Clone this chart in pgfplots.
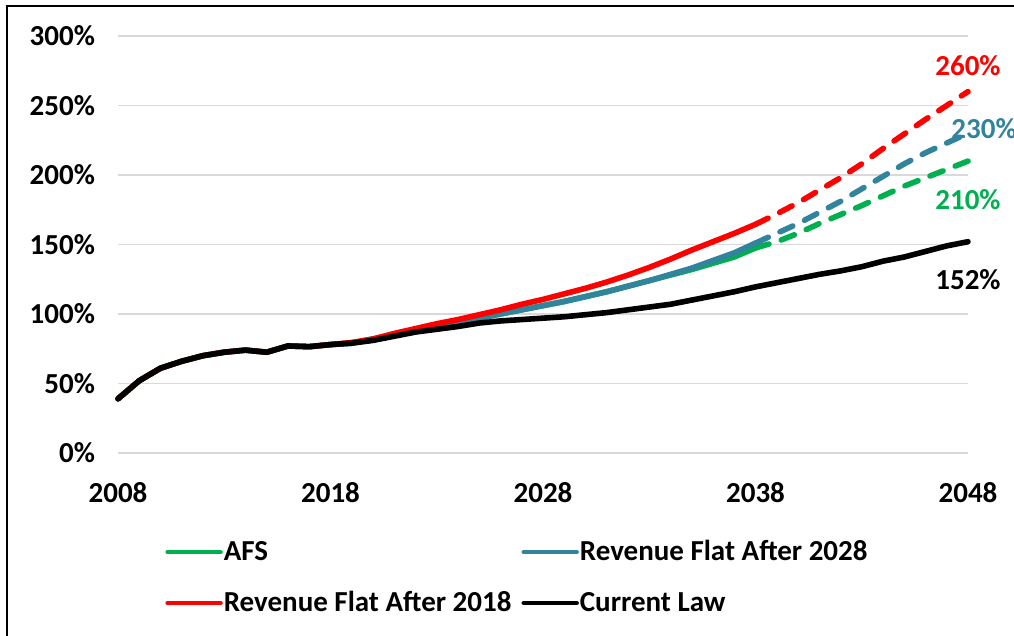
\documentclass[border=0pt]{standalone}
\usepackage{fontspec}
\setmainfont{Carlito}
\usepackage{pgfplots}
\pgfplotsset{compat=1.18}
\definecolor{afsgreen}{HTML}{00B050}
\definecolor{revblue}{HTML}{31849B}
\definecolor{revred}{HTML}{FF0000}
\definecolor{gridgray}{HTML}{D9D9D9}
\newcommand{\ChartFont}{\fontsize{14.5}{17}\selectfont\bfseries}

\begin{document}
\begin{tikzpicture}[x=1pt,y=1pt]
\useasboundingbox (0,0) rectangle (507,318);
\draw[line width=1pt] (3.3,-20) -- (3.3,315.2) -- (530,315.2);
\begin{axis}[
  at={(59pt,91.5pt)}, anchor=south west,
  scale only axis, width=425pt, height=208.5pt,
  xmin=2008, xmax=2048, ymin=0, ymax=300,
  xtick={2008,2018,2028,2038,2048},
  ytick={0,50,...,300},
  axis line style={draw=none},
  major tick length=0pt,
  ymajorgrids,
  grid style={color=gridgray, line width=0.9pt},
  font=\ChartFont,
  tick label style={font=\ChartFont},
  /pgf/number format/assume math mode=true,
  /pgf/number format/1000 sep={},
  yticklabel={\pgfmathprintnumber{\tick}\%},
  yticklabel style={xshift=-8pt},
  xticklabel style={yshift=-11pt},
  clip=false,
  every axis plot/.append style={line width=2.8pt, line cap=round, line join=round},
  legend columns=2,
  legend cell align=left,
  legend style={draw=none, fill=none, inner sep=0pt,
    at={(axis description cs:0.0553,-0.2086)}, anchor=north west,
    row sep=13.8pt,
    nodes={inner xsep=0.5pt, inner ysep=0pt},
    /tikz/every even column/.append style={column sep=4.5pt}},
  legend image code/.code={\draw[#1, line width=2.3pt] (0.6pt,0pt) -- (27pt,0pt);},
]
% projections after 2038
\addplot[afsgreen, dash pattern=on 7pt off 6.5pt, forget plot] coordinates {
  (2038,147.5) (2039,152) (2040,158) (2041,165) (2042,171.5) (2043,178)
  (2044,185) (2045,192) (2046,198) (2047,204) (2048,210)
};
\addplot[revblue, dash pattern=on 7pt off 6.5pt, forget plot] coordinates {
  (2038,151) (2039,158) (2040,165) (2041,173) (2042,181) (2043,190)
  (2044,199) (2045,208) (2046,216) (2047,223) (2048,230)
};
\addplot[revred, dash pattern=on 7pt off 6.5pt, forget plot] coordinates {
  (2038,164.5) (2039,172) (2040,180) (2041,189) (2042,198) (2043,208)
  (2044,219) (2045,229.5) (2046,240) (2047,250) (2048,260)
};
% through 2038
\addplot[afsgreen] coordinates {
  (2008,39) (2009,52) (2010,61) (2011,66) (2012,70) (2013,72.5) (2014,74)
  (2015,72.5) (2016,77) (2017,76.5) (2018,78) (2019,79) (2020,82) (2021,85)
  (2022,88) (2023,91) (2024,94) (2025,97) (2026,100) (2027,103) (2028,106)
  (2029,109) (2030,112.5) (2031,116) (2032,120) (2033,124) (2034,128)
  (2035,132) (2036,136.5) (2037,141) (2038,147.5)
};
\addlegendentry{AFS}
\addplot[revblue] coordinates {
  (2008,39) (2009,52) (2010,61) (2011,66) (2012,70) (2013,72.5) (2014,74)
  (2015,72.5) (2016,77) (2017,76.5) (2018,78) (2019,79) (2020,82) (2021,85)
  (2022,88) (2023,91) (2024,94) (2025,97) (2026,100) (2027,103) (2028,106)
  (2029,109) (2030,112.5) (2031,116) (2032,120) (2033,124) (2034,128.5)
  (2035,133) (2036,138.5) (2037,144) (2038,151)
};
\addlegendentry{Revenue Flat After 2028}
\addplot[revred] coordinates {
  (2008,39) (2009,52) (2010,61) (2011,66) (2012,70) (2013,72.5) (2014,74)
  (2015,72.5) (2016,77) (2017,76.5) (2018,78) (2019,79.5) (2020,82) (2021,86)
  (2022,89.5) (2023,93) (2024,96) (2025,99.5) (2026,103) (2027,107)
  (2028,110.5) (2029,114.5) (2030,118.5) (2031,123) (2032,128) (2033,133.5)
  (2034,139.5) (2035,146) (2036,152) (2037,158) (2038,164.5)
};
\addlegendentry{Revenue Flat After 2018}
\addplot[black] coordinates {
  (2008,39) (2009,52) (2010,61) (2011,66) (2012,70) (2013,72.5) (2014,74)
  (2015,72.5) (2016,77) (2017,76.5) (2018,78) (2019,79) (2020,81) (2021,84)
  (2022,87) (2023,89) (2024,91) (2025,93.5) (2026,95) (2027,96) (2028,97)
  (2029,98) (2030,99.5) (2031,101) (2032,103) (2033,105) (2034,107)
  (2035,110) (2036,113) (2037,116) (2038,119.5) (2039,122.5) (2040,125.5)
  (2041,128.5) (2042,131) (2043,134) (2044,138) (2045,141) (2046,145)
  (2047,149) (2048,152)
};
\addlegendentry{Current Law}
\node[text=revred] at (axis cs:2048,278.4) {260\%};
\node[text=revblue, anchor=west, inner sep=0pt] at (axis cs:2047.2,233.6) {230\%};
\node[text=afsgreen] at (axis cs:2048,182) {210\%};
\node[text=black] at (axis cs:2048,124.5) {152\%};
\end{axis}
\end{tikzpicture}
\end{document}
